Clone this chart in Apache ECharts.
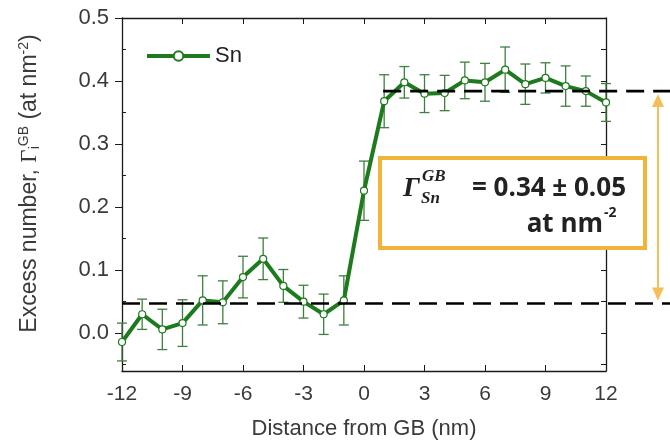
<!DOCTYPE html>
<html><head><meta charset="utf-8">
<script src="https://cdn.jsdelivr.net/npm/echarts@6/dist/echarts.min.js"></script>
<style>html,body{margin:0;padding:0;background:#fff}#c{width:670px;height:445px}</style>
</head><body><div id="c"></div>
<script>
// ---- data ----
const distances = [-12,-11,-10,-9,-8,-7,-6,-5,-4,-3,-2,-1,0,1,2,3,4,5,6,7,8,9,10,11,12];
const snValues  = [-0.014,0.030,0.006,0.016,0.052,0.049,0.089,0.118,0.075,0.050,0.030,0.052,0.226,0.368,0.398,0.380,0.381,0.401,0.398,0.418,0.395,0.405,0.392,0.384,0.366];
const snErrors  = [0.030,0.024,0.032,0.037,0.039,0.034,0.033,0.033,0.026,0.026,0.032,0.039,0.047,0.042,0.025,0.030,0.028,0.029,0.030,0.036,0.032,0.024,0.032,0.024,0.030];
const yMajorTicks = [0,0.1,0.2,0.3,0.4,0.5];
const yMinorTicks = [-0.05,0.05,0.15,0.25,0.35,0.45];
const xTicks = [-12,-9,-6,-3,0,3,6,9,12];
const upperLevel = 0.384;
const lowerLevel = 0.047;
const upperLevelStartX = 0.95;

const chart = echarts.init(document.getElementById('c'), null, {renderer:'canvas'});
const axisColor = '#1a1a1a';
const green = '#1d7a1d';

const points = distances.map((x,i)=>[x, snValues[i]]);
const errs = distances.map((x,i)=>[x, snValues[i]-snErrors[i], snValues[i]+snErrors[i]]);

const option = {
  animation:false,
  backgroundColor:'#fff',
  grid:{left:122, right:64, top:18, bottom:72},
  legend:{
    left:140, top:40, itemWidth:63, itemHeight:12, itemGap:8,
    data:['Sn'],
    lineStyle:{width:4},
    textStyle:{fontFamily:'Liberation Sans', fontSize:22, color:'#222', padding:[0,0,0,0]}
  },
  xAxis:[{
    type:'value', min:-12, max:12, interval:3, position:'bottom',
    axisLine:{show:true, onZero:false, lineStyle:{color:axisColor, width:1.3}},
    axisTick:{show:true, inside:true, length:6, lineStyle:{color:axisColor}},
    axisLabel:{fontFamily:'Liberation Sans', fontSize:21, color:'#3a3a3a', margin:13, formatter:v=>String(v)},
    splitLine:{show:false},
    name:'Distance from GB (nm)', nameLocation:'middle', nameGap:47,
    nameTextStyle:{fontFamily:'Liberation Sans', fontSize:22, color:'#3a3a3a'}
  },{
    type:'value', min:-12, max:12, interval:3, position:'top',
    axisLine:{show:true, onZero:false, lineStyle:{color:axisColor, width:1.3}},
    axisTick:{show:true, inside:true, length:6, lineStyle:{color:axisColor}},
    axisLabel:{show:false}, splitLine:{show:false}
  }],
  yAxis:[{
    type:'value', min:-0.06, max:0.5, position:'left',
    axisLine:{show:true, onZero:false, lineStyle:{color:axisColor, width:1.3}},
    axisTick:{show:true, inside:false, length:7, customValues:yMajorTicks, lineStyle:{color:axisColor}},
    axisLabel:{fontFamily:'Liberation Sans', fontSize:22, color:'#3a3a3a', margin:13, customValues:yMajorTicks, formatter:v=>v.toFixed(1)},
    splitLine:{show:false},
    name:'Excess number, {g|Γ}{sub|i}{sup|GB} (at nm{sup|-2})',
    nameLocation:'middle', nameGap:80, nameRotate:90,
    nameTextStyle:{fontFamily:'Liberation Sans', fontSize:23, color:'#3a3a3a', padding:[0,0,0,22],
      rich:{
        g:{fontFamily:'Liberation Serif', fontSize:23, color:'#3a3a3a'},
        sub:{fontFamily:'Liberation Sans', fontSize:14, color:'#3a3a3a', verticalAlign:'bottom', padding:[9,0,0,0]},
        sup:{fontFamily:'Liberation Sans', fontSize:14, color:'#3a3a3a', verticalAlign:'top', padding:[0,0,11,0]}
      }}
  },{
    type:'value', min:-0.06, max:0.5, position:'left',
    axisLine:{show:false, onZero:false},
    axisTick:{show:true, inside:true, length:4, customValues:yMinorTicks, lineStyle:{color:axisColor}},
    axisLabel:{show:false, customValues:yMinorTicks}, splitLine:{show:false}
  },{
    type:'value', min:-0.06, max:0.5, position:'right',
    axisLine:{show:true, onZero:false, lineStyle:{color:axisColor, width:1.3}},
    axisTick:{show:true, inside:true, length:5, customValues:yMajorTicks.concat(yMinorTicks), lineStyle:{color:axisColor}},
    axisLabel:{show:false, customValues:yMajorTicks.concat(yMinorTicks)}, splitLine:{show:false}
  }],
  series:[{
    type:'custom', name:'err', xAxisIndex:0, yAxisIndex:0, z:2, silent:true,
    data:errs,
    renderItem:function(params, api){
      const x = api.value(0);
      const lo = api.coord([x, api.value(1)]);
      const hi = api.coord([x, api.value(2)]);
      const hw = 5;
      const st = {stroke:'#3f7f3f', lineWidth:1.3};
      return {type:'group', children:[
        {type:'line', shape:{x1:lo[0],y1:lo[1],x2:hi[0],y2:hi[1]}, style:st},
        {type:'line', shape:{x1:lo[0]-hw,y1:lo[1],x2:lo[0]+hw,y2:lo[1]}, style:st},
        {type:'line', shape:{x1:hi[0]-hw,y1:hi[1],x2:hi[0]+hw,y2:hi[1]}, style:st}
      ]};
    }
  },{
    type:'line', name:'Sn', xAxisIndex:0, yAxisIndex:0, z:3,
    data:points,
    symbol:'circle', symbolSize:7,
    itemStyle:{color:'#ffffff', borderColor:green, borderWidth:1.2},
    lineStyle:{color:green, width:4},
    emphasis:{disabled:true}
  }]
};
chart.setOption(option);

function drawAnnotations(){
  const pUpStart = chart.convertToPixel({xAxisIndex:0, yAxisIndex:0}, [upperLevelStartX, upperLevel]);
  const pLowStart = chart.convertToPixel({xAxisIndex:0, yAxisIndex:0}, [-12, lowerLevel]);
  const W = 670;
  const dashStyle = {stroke:'#000', lineWidth:2.6, lineDash:[18,9]};
  const arrowX = 658;
  const aCol = '#F4BE5A';
  const boxCol = '#F0B33C';
  const yU = pUpStart[1], yL = pLowStart[1];
  const txt = (x, y, text, font, align) => ({type:'text', z:12, x:x, y:y,
    style:{text:text, font:font, fill:'#222', align:align||'left', verticalAlign:'middle'}});
  chart.setOption({graphic:[
    {type:'line', z:10, shape:{x1:pUpStart[0], y1:yU, x2:W, y2:yU}, style:dashStyle},
    {type:'line', z:10, shape:{x1:pLowStart[0], y1:yL, x2:W, y2:yL}, style:dashStyle},
    {type:'line', z:9, shape:{x1:arrowX, y1:yU+12, x2:arrowX, y2:yL-12}, style:{stroke:aCol, lineWidth:2}},
    {type:'polygon', z:9, shape:{points:[[arrowX,yU+3],[arrowX-6,yU+16],[arrowX+6,yU+16]]}, style:{fill:aCol}},
    {type:'polygon', z:9, shape:{points:[[arrowX,yL-3],[arrowX-6,yL-16],[arrowX+6,yL-16]]}, style:{fill:aCol}},
    {type:'rect', z:11, shape:{x:380, y:158, width:265, height:90}, style:{fill:'#fff', stroke:boxCol, lineWidth:4}},
    txt(403, 189, 'Γ', 'italic bold 28px "Liberation Serif"'),
    txt(422, 177, 'GB', 'italic bold 17px "Liberation Serif"'),
    txt(421, 199, 'Sn', 'italic bold 17px "Liberation Serif"'),
    txt(626, 189, '= 0.34 ± 0.05', 'bold 26px "Open Sans"', 'right'),
    txt(603, 225, 'at nm', 'bold 26px "Open Sans"', 'right'),
    txt(604, 213, '-2', 'bold 14px "Open Sans"', 'left')
  ]});
}
drawAnnotations();
</script>
</body></html>
